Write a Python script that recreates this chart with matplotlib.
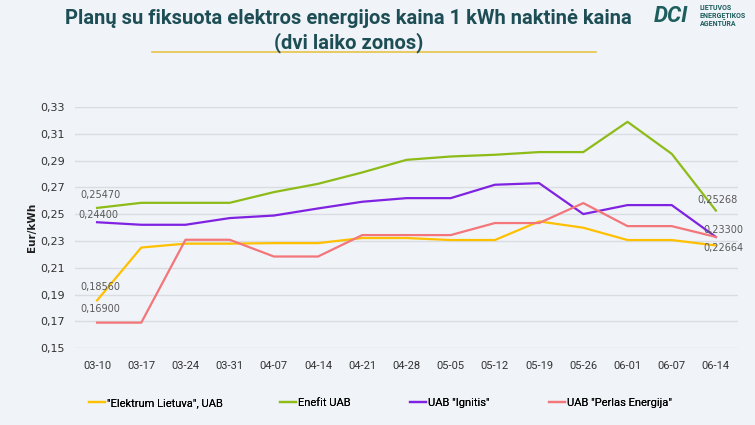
import matplotlib
matplotlib.use("Agg")
import matplotlib.pyplot as plt
from matplotlib.ticker import FuncFormatter
from matplotlib.lines import Line2D

# weekly dates
dates = ["03-10", "03-17", "03-24", "03-31", "04-07", "04-14", "04-21", "04-28",
         "05-05", "05-12", "05-19", "05-26", "06-01", "06-07", "06-14"]

elektrum = [0.18560, 0.2251, 0.2280, 0.2280, 0.2284, 0.2284, 0.2322, 0.2322,
            0.2307, 0.2307, 0.2446, 0.2399, 0.2307, 0.2307, 0.22664]
enefit = [0.25470, 0.2585, 0.2585, 0.2585, 0.2665, 0.2727, 0.2812, 0.2906,
          0.2931, 0.2944, 0.2964, 0.2964, 0.3190, 0.2951, 0.25268]
ignitis = [0.24400, 0.2421, 0.2421, 0.2471, 0.2490, 0.2543, 0.2593, 0.2620,
           0.2620, 0.2720, 0.2732, 0.2501, 0.2568, 0.2568, 0.23300]
perlas = [0.16900, 0.16900, 0.2309, 0.2309, 0.2184, 0.2184, 0.2344, 0.2344,
          0.2344, 0.2434, 0.2434, 0.2583, 0.2411, 0.2411, 0.23300]

names = ['"Elektrum Lietuva", UAB', 'Enefit UAB', 'UAB "Ignitis"', 'UAB "Perlas Energija"']
colors = ["#FFC000", "#8DBB18", "#7F22E2", "#F2767A"]

bg = "#F0F3F7"
narrow = ["Roboto", "DejaVu Sans"]

fig = plt.figure(figsize=(7.55, 4.25), dpi=100, facecolor=bg)
ax = fig.add_axes([0.0993, 0.181, 0.8782, 0.567], facecolor=bg)

x = list(range(len(dates)))
series = [elektrum, enefit, ignitis, perlas]
lines = []
for s, c, n in zip(series, colors, names):
    ln, = ax.plot(x, s, color=c, lw=1.6, label=n)
    lines.append(ln)

ax.set_xlim(-0.5, len(dates) - 0.5)
ax.set_ylim(0.15, 0.33)
ax.set_yticks([0.15, 0.17, 0.19, 0.21, 0.23, 0.25, 0.27, 0.29, 0.31, 0.33])
ax.yaxis.set_major_formatter(FuncFormatter(lambda v, p: f"{v:.2f}".replace(".", ",")))
ax.set_xticks(x)
ax.set_xticklabels(dates, fontfamily=narrow, fontsize=8, color="#333333")
ax.tick_params(axis="y", labelsize=8, labelcolor="#333333", length=0, pad=7)
ax.tick_params(axis="x", length=0, pad=9)
ax.grid(axis="y", color="#D9DCE0", lw=1)
ax.set_axisbelow(True)
for sp in ax.spines.values():
    sp.set_visible(False)
ax.set_ylabel("Eur/kWh", fontsize=7.5, fontweight="bold", color="#202020")
ax.yaxis.set_label_coords(-0.057, 0.5)

def fmt(v):
    return f"{v:.5f}".replace(".", ",")

lab_kw = dict(fontsize=7, color="#595959", ha="left", va="center", textcoords="offset points")
n = len(dates) - 1
ax.annotate(fmt(enefit[0]), (0, enefit[0]), xytext=(-12, 9), **lab_kw)
ax.annotate(fmt(ignitis[0]), (0, ignitis[0]), xytext=(-13.5, 5), **lab_kw)
ax.annotate(fmt(elektrum[0]), (0, elektrum[0]), xytext=(-12, 9.5), **lab_kw)
ax.annotate(fmt(perlas[0]), (0, perlas[0]), xytext=(-12, 9.5), **lab_kw)
ax.annotate(fmt(enefit[n]), (n, enefit[n]), xytext=(-13, 8), **lab_kw)
ax.annotate(fmt(ignitis[n]), (n, ignitis[n]), xytext=(-9, 5), **lab_kw)
ax.annotate(fmt(elektrum[n]), (n, elektrum[n]), xytext=(-9, -1.5), **lab_kw)

# legend entries placed individually
leg_x = [89, 280, 410, 549]
for ln, lx in zip(lines, leg_x):
    lg = fig.legend(handles=[ln], loc="center left", bbox_to_anchor=(lx / 755, 1 - 403 / 425),
                    frameon=False, handlelength=1.4, handletextpad=0.2, borderaxespad=0,
                    borderpad=0, prop={"family": narrow, "size": 8})
    fig.add_artist(lg)

# title and decoration
fig.text(0.462, 0.957, "Planų su fiksuota elektros energijos kaina 1 kWh naktinė kaina",
         ha="center", va="center", fontsize=14.5, fontweight="bold", color="#1D4E55",
         fontfamily=narrow)
fig.text(0.462, 0.899, "(dvi laiko zonos)", ha="center", va="center", fontsize=14.5,
         fontweight="bold", color="#1D4E55", fontfamily=narrow)
fig.add_artist(Line2D([152 / 755, 596 / 755], [1 - 52 / 425] * 2, color="#E8C34A", lw=1.2))

# logo
fig.text(0.866, 0.962, "DCI", ha="left", va="center", fontsize=16, fontweight="bold",
         fontstyle="italic", color="#1E5E5E", fontfamily=narrow)
fig.text(0.927, 0.962, "LIETUVOS\nENERGETIKOS\nAGENTŪRA", ha="left", va="center",
         fontsize=5, fontweight="bold", color="#1E5E5E", linespacing=1.0, fontfamily=narrow)

fig.savefig("out.png", dpi=100, facecolor=bg)
